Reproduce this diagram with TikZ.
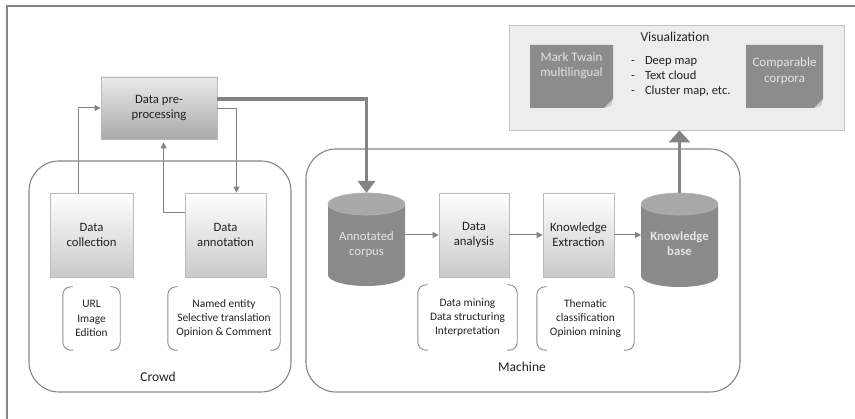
\documentclass[tikz,border=0pt]{standalone}
\usepackage{fontspec}
\setmainfont{Carlito}
\usetikzlibrary{arrows.meta,calc}
\definecolor{txt}{HTML}{222222}
\definecolor{frameline}{HTML}{858585}
\definecolor{arrowgray}{HTML}{838383}
\definecolor{boxedge}{HTML}{BBBBBB}
\definecolor{cylbody}{HTML}{8A8A8A}
\definecolor{cyltop}{HTML}{A8A8A8}
\definecolor{cyledge}{HTML}{B4B4B4}
\definecolor{visfill}{HTML}{EDEDED}
\definecolor{visedge}{HTML}{C2C2C2}
\definecolor{notefill}{HTML}{8C8C8C}
\definecolor{notefold}{HTML}{C8C8C8}
\definecolor{notetxt}{HTML}{E4E4E4}
\tikzset{
  procbox/.style={draw=boxedge, line width=0.8pt, top color=white, bottom color=black!21,
    align=center, text=txt, font=\fontsize{12.7}{15}\selectfont, inner sep=0pt},
  prebox/.style={procbox, top color=black!8, bottom color=black!34},
  container/.style={draw=frameline, line width=1.1pt, rounded corners=30pt},
  thinarr/.style={draw=arrowgray, line width=1pt, -{Triangle[length=6pt,width=6pt]}},
  thickarr/.style={draw=arrowgray, line width=3.5pt, -{Triangle[length=12pt,width=17pt]}},
  brack/.style={draw=black!45, line width=0.9pt, rounded corners=8pt},
  bracktext/.style={align=center, text=txt, font=\fontsize{11.4}{14.3}\selectfont, inner sep=0pt},
  cyltext/.style={align=center, text=notetxt, font=\fontsize{12.7}{15}\selectfont},
  notetext/.style={align=center, text=notetxt, font=\fontsize{13}{15.5}\selectfont},
  grouplabel/.style={text=txt, font=\fontsize{13.5}{16}\selectfont},
  ghost/.style={inner sep=0pt, outer sep=0pt}
}
\newcommand{\mybrackets}[1]{%
  \draw[brack] ($(#1.north west)+(10,0)$) -- (#1.north west) -- (#1.south west) -- ($(#1.south west)+(10,0)$);
  \draw[brack] ($(#1.north east)+(-10,0)$) -- (#1.north east) -- (#1.south east) -- ($(#1.south east)+(-10,0)$);}
\newcommand{\mycylinder}[1]{%
  \fill[cylbody] ($(#1.north west)+(0,11)$) -- ($(#1.south west)+(0,-11)$)
    arc[start angle=180, end angle=360, x radius=38.5pt, y radius=11pt]
    -- ($(#1.north east)+(0,11)$) -- cycle;
  \filldraw[fill=cyltop, draw=cyledge, line width=0.6pt] ($(#1.north)+(0,11)$) ellipse [x radius=38.5pt, y radius=11pt];}
\newcommand{\mynote}[1]{%
  \fill[notefill] (#1.north west) -- (#1.north east) -- ($(#1.south east)+(0,-9)$) -- ($(#1.south east)+(-9,0)$) -- (#1.south west) -- cycle;
  \fill[notefold] ($(#1.south east)+(0,-9)$) -- ($(#1.south east)+(-9,0)$) -- ($(#1.south east)+(-2,-2)$) -- cycle;}
\begin{document}
\begin{tikzpicture}[x=1pt, y=-1pt]
\useasboundingbox (0,0) rectangle (855,419);
% outer frame (top and left only)
\draw[frameline, line width=1.3pt] (7,419) -- (7,6) -- (855,6);

% containers
\draw[container] (29,161) rectangle (291,392);
\draw[container] (306,149) rectangle (740,392);
\node[grouplabel] (crowd) at (158,377) {Crowd};
\node[grouplabel] (machine) at (522,367) {Machine};

% visualization
\node[draw=visedge, fill=visfill, line width=0.9pt, minimum width=335pt, minimum height=105pt, inner sep=0pt] (vis) at (676.5,77.5) {};
\node[text=txt, font=\fontsize{13.5}{16}\selectfont] (vistitle) at (675,37) {Visualization};
\node[ghost, minimum width=83pt, minimum height=63pt] (mt) at (571.5,76.5) {};
\mynote{mt}
\node[notetext] (mttext) at (571.5,65.5) {Mark Twain\\multilingual};
\node[ghost, minimum width=77pt, minimum height=63pt] (cc) at (784.5,76.5) {};
\mynote{cc}
\node[notetext] (cctext) at (784.5,71) {Comparable\\corpora};
\node[anchor=north west, text=txt, font=\fontsize{12.5}{15}\selectfont, inner sep=0pt] (vislist) at (631,54)
  {\begin{tabular}{@{}l@{\hspace{10pt}}l@{}}-&Deep map\\-&Text cloud\\-&Cluster map, etc.\end{tabular}};

% crowd nodes
\node[prebox, minimum width=116pt, minimum height=62pt] (pp) at (159,108) {Data pre-\\processing};
\node[procbox, minimum width=83pt, minimum height=84pt] (dc) at (91.5,235) {Data\\collection};
\node[procbox, minimum width=81pt, minimum height=84pt] (da) at (225.5,235) {Data\\annotation};
\node[bracktext, minimum width=57pt, minimum height=63pt] (b1) at (91.5,318.5) {URL\\Image\\Edition};
\node[bracktext, minimum width=112pt, minimum height=63pt] (b2) at (224,318.5) {Named entity\\Selective translation\\Opinion \& Comment};
\mybrackets{b1}
\mybrackets{b2}

% machine nodes
\node[ghost, minimum width=77pt, minimum height=93pt] (ac) at (366.5,239.5) {};
\mycylinder{ac}
\node[cyltext] (actext) at (366.5,245) {Annotated\\corpus};
\node[procbox, minimum width=70pt, minimum height=84pt] (dan) at (474,235) {Data\\analysis};
\node[procbox, minimum width=71pt, minimum height=84pt] (ke) at (578.5,235) {Knowledge\\Extraction};
\node[ghost, minimum width=77pt, minimum height=94pt] (kb) at (679.5,240) {};
\mycylinder{kb}
\node[cyltext, font=\bfseries\fontsize{12.7}{15}\selectfont] (kbtext) at (679.5,244) {Knowledge\\base};
\node[bracktext, minimum width=99pt, minimum height=65pt] (b3) at (467.5,317.5) {Data mining\\Data structuring\\Interpretation};
\node[bracktext, minimum width=97pt, minimum height=63pt] (b4) at (585.5,318.5) {Thematic\\classification\\Opinion mining};
\mybrackets{b3}
\mybrackets{b4}

% connectors
\draw[thinarr] ($(dc.north west)+(29,0)$) |- (pp.west);
\draw[thinarr, shorten >=3pt] ($(da.north west)+(0,20)$) -| ($(pp.south west)+(63,0)$);
\draw[thinarr] ($(pp.east)+(0,1)$) -| ($(da.north)+(11,0)$);
\draw[thickarr] ($(pp.east)+(0,-9)$) -| (ac.north);
\draw[thinarr] ($(ac.east)+(0,-4.5)$) -- (dan.west);
\draw[thinarr] (dan.east) -- (ke.west);
\draw[thinarr] (ke.east) -- (kb.west |- ke.east);
\draw[thickarr, -{Triangle[length=12pt,width=21pt]}] (kb.north) -- (kb.north |- vis.south);
\end{tikzpicture}
\end{document}
